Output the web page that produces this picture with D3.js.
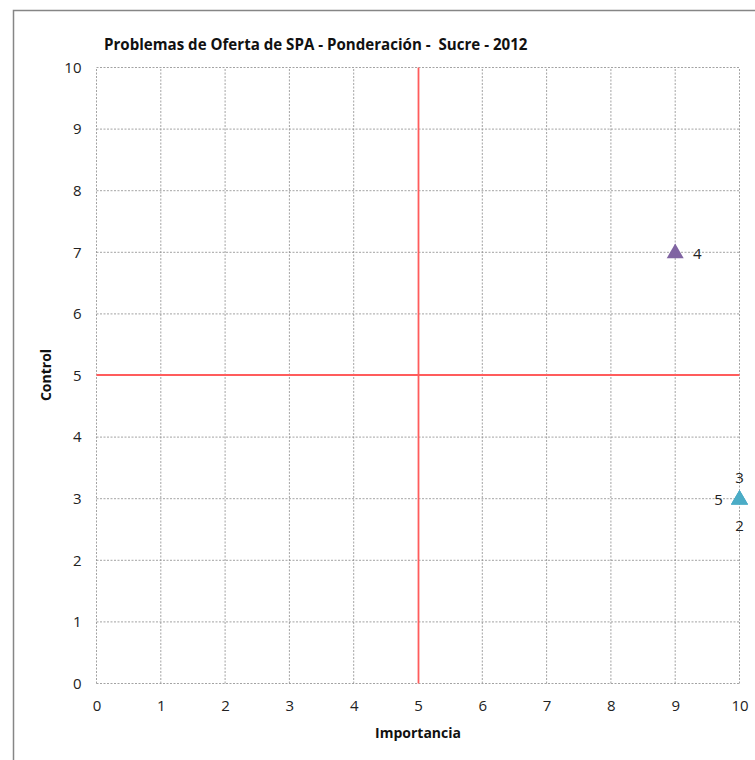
<!DOCTYPE html>
<html><head><meta charset="utf-8">
<script src="https://cdn.jsdelivr.net/npm/d3@7"></script>
<style>body{margin:0;background:#fff;} svg{display:block;} text{white-space:pre;}</style>
</head><body>
<script>
const chartTitle = "Problemas de Oferta de SPA - Ponderación -  Sucre - 2012";
const xTitle = "Importancia";
const yTitle = "Control";
const xTicks = [0,1,2,3,4,5,6,7,8,9,10];
const yTicks = [0,1,2,3,4,5,6,7,8,9,10];
const pointLabels = ["2","3","4","5"];
const importancia = [10,10,9,10];
const control = [3,3,7,3];
const pointColors = ["#4BACC6","#4BACC6","#8064A2","#4BACC6"];
const labelPos = ["below","above","right","left"];
const refX = 5, refY = 5;

const W = 755, H = 760;
const svg = d3.select("body").append("svg").attr("width", W).attr("height", H);
const font = "'Open Sans', 'Liberation Sans', sans-serif";

svg.append("rect").attr("x",13.5).attr("y",10.5).attr("width",W).attr("height",H)
  .attr("fill","#fff").attr("stroke","#868686").attr("stroke-width",1.5);

const x = d3.scaleLinear().domain([0,10]).range([96.5,739.5]);
const y = d3.scaleLinear().domain([0,10]).range([683.5,67.5]);

const g = svg.append("g");
// grid
g.selectAll(".vg").data(xTicks.filter(d=>d!==refX)).join("line")
  .attr("x1",d=>x(d)).attr("x2",d=>x(d)).attr("y1",y(0)).attr("y2",y(10))
  .attr("stroke","#8c8c8c").attr("stroke-width",0.8).attr("stroke-dasharray","2,1.5");
g.selectAll(".hg").data(yTicks.filter(d=>d!==refY)).join("line")
  .attr("y1",d=>y(d)).attr("y2",d=>y(d)).attr("x1",x(0)).attr("x2",x(10))
  .attr("stroke","#8c8c8c").attr("stroke-width",0.8).attr("stroke-dasharray","2,1.5");
// reference lines
g.append("line").attr("x1",x(refX)+0.5).attr("x2",x(refX)+0.5).attr("y1",y(0)).attr("y2",y(10))
  .attr("stroke","#ff5c5c").attr("stroke-width",1.8);
g.append("line").attr("y1",y(refY)-0.5).attr("y2",y(refY)-0.5).attr("x1",x(0)).attr("x2",x(10))
  .attr("stroke","#ff5c5c").attr("stroke-width",1.8);

// axes tick labels
const xAxis = d3.axisBottom(x).tickValues(xTicks).tickSize(0).tickPadding(0).tickFormat(d3.format("d"));
const gx = svg.append("g").attr("transform",`translate(0,${y(0)+23})`).call(xAxis);
gx.select(".domain").remove();
gx.selectAll("text").attr("font-family",font).attr("font-size",15).attr("fill","#222").attr("dy","0.32em");
const yAxis = d3.axisLeft(y).tickValues(yTicks).tickSize(0).tickPadding(0).tickFormat(d3.format("d"));
const gy = svg.append("g").attr("transform",`translate(${x(0)-15},0)`).call(yAxis);
gy.select(".domain").remove();
gy.selectAll("text").attr("font-family",font).attr("font-size",15).attr("fill","#222");

// titles
svg.append("text").attr("x",104).attr("y",50).text(chartTitle)
  .attr("font-family",font).attr("font-weight","bold").attr("font-size",15.1).attr("fill","#111");
svg.append("text").attr("x",418).attr("y",738).attr("text-anchor","middle").text(xTitle)
  .attr("font-family",font).attr("font-weight","bold").attr("font-size",14).attr("fill","#111");
svg.append("text").attr("transform",`translate(51,375) rotate(-90)`).attr("text-anchor","middle").text(yTitle)
  .attr("font-family",font).attr("font-weight","bold").attr("font-size",14).attr("fill","#111");

// points
const pts = pointLabels.map((l,i)=>({l, xv:importancia[i], yv:control[i], c:pointColors[i], pos:labelPos[i]}));
const tri = d3.symbol().type(d3.symbolTriangle).size(125);
svg.selectAll(".pt").data(pts).join("path")
  .attr("d",tri).attr("transform",d=>`translate(${x(d.xv)},${y(d.yv)+1})`).attr("fill",d=>d.c);
const off = {below:[0,27],above:[0,-21],right:[22,1],left:[-21,1]};
svg.selectAll(".lbl").data(pts).join("text")
  .attr("x",d=>x(d.xv)+off[d.pos][0]).attr("y",d=>y(d.yv)+off[d.pos][1])
  .attr("text-anchor","middle").attr("dy","0.35em").text(d=>d.l)
  .attr("font-family",font).attr("font-size",15).attr("fill","#222");
</script>
</body></html>
